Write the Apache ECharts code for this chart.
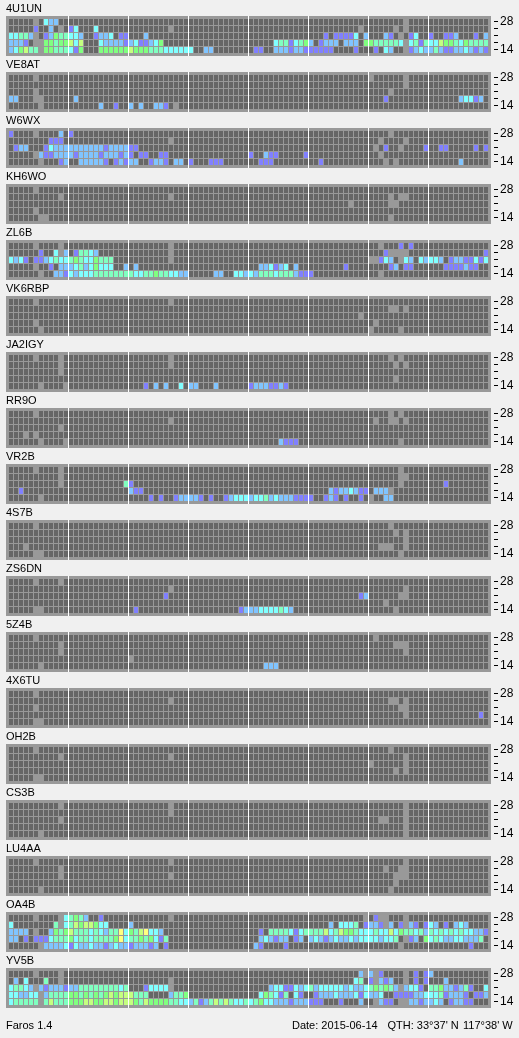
<!DOCTYPE html>
<html><head><meta charset="utf-8">
<script src="https://cdn.jsdelivr.net/npm/echarts@6/dist/echarts.min.js"></script>
<style>html,body{margin:0;padding:0;background:#f0f0f0}#c{width:519px;height:1038px}</style>
</head><body><div id="c"></div>
<script>
// Row order in each array: 28, 24, 21, 18, 14 MHz. Each row is 8 blocks of 12 slots.
// . = no signal, x = no data, 1-7 = signal level, - = whole block without signal
const bandLabels = ['28','','','','14'];
const stationNames = ['4U1UN','VE8AT','W6WX','KH6WO','ZL6B','VK6RBP','JA2IGY','RR9O','VR2B','4S7B','ZS6DN','5Z4B','4X6TU','OH2B','CS3B','LU4AA','OA4B','YV5B'];
const footerLeft = 'Faros 1.4';
const footerDate = 'Date: 2015-06-14';
const footerQth = "QTH: 33°37' N";
const footerLon = "117°38' W";
const levelColors = {'-1':'#999999',0:'#666666',1:'#8080ff',2:'#80c4ff',3:'#80ffff',4:'#80ffc0',5:'#80ff80',6:'#c4ff80',7:'#ffff80'};

const s4U1UN = [
 '.....x.322.. - - - - - .......x.... -',
 '.....1..2.x. 13...3...... ........x... - - ..........x. .....x.x.... -',
 '33442x.12544 332..1223.11 ...2........ - - ...1.11113.2 ...21.x.13.. 1..112...1.2',
 '2221.xx55455 636...322221 2311235..... - .....3441345 2.1222.222.5 5444443x3414 336554354444',
 '235644x55444 315...555555 655544433333 3..22....... .11..2221221 11111....1.. .1.32..x1232 242112232121'];
const sVE8AT = [
 '.....x...... - - - - - x......x.... -',
 '- - - - - - .......x.... -',
 '.....x...... - - - - - ....x....... -',
 '22...xx..... .2.......... - - - - ...1........ ......23312.',
 '......x..... ......2..1.. 2.2..221.x.. - - - - -'];
const sW6WX = [
 '1....x....2. 1........... - - - - ....x....... -',
 '........111. - ........x... - - - ..x....x.... -',
 '.122...13222 222222212222 11.......... - - - .x.1..x....1 ..11.....1.1',
 '.....x211222 212222122212 1.11..11.... - 1..211.....1 - ..x......... -',
 '......x...12 ..222221.121 22..1221.22. 1...111..... ..111....... ..1......... ...x.x...... ......2.....'];
const sKH6WO = [
 '.....x...... - - - - - - -',
 '..........x. - ........x... - - - ....x.xx.... -',
 '- - - - - ........x... ....xx...... -',
 '.....x...... - - - - - - -',
 '......xx.... - - - - - ....x....... -'];
const sZL6B = [
 '.....x....x. - ........x... - - - ..x...1.1... -',
 '......1..3x2 .14432...... ........x... - - - ...1xxxx.... ...........1',
 '3231.1123433 454335444... ........x... - - - xx132.x32.32 332.12211313',
 '.....x..1.22 234235333..2 .2.......... - ..223123.2.. .......1.... ....12.11... ...1111211..',
 '......x..221 323334444444 433445443322 .....22..332 324443444211 1........... ..x......... -'];
const sVK6RBP = [
 '.....x...... - ........x... - - - - -',
 '- - - - - - ....xx.x.... -',
 '- - - - - ..........x. - -',
 '.....x...... - - - - - .x.......... -',
 '......x..... - - - - - x.....x..... -'];
const sJA2IGY = [
 '.....x....x. - ........x... - - - ....x.x..... -',
 '..........x. - ........x... - - - .....x.x.... -',
 '..........x. - - - - - - -',
 '- - - - - - .....x...... -',
 '......x....x - ...1.2.2..3. 22...2...... 12221121.... - - -'];
const sRR9O = [
 '.....x...... - - - - - ....x.x..... -',
 '- - ........x... - - - .x..xx.x.... -',
 '..........x. - - - - - - -',
 '...x.x...... - - - - - - -',
 '......x....x - - - ......2111.. - ......x..... -'];
const sVR2B = [
 '.....x....x. - - - - - ......x..... -',
 '..........x. - - - - - ......xx.... -',
 '..........x. ...........4 1........... - - - ......x..... ...1........',
 '..1......... - 211......... - - ....21223211 .222x....... -',
 '......x..... - ....1.1..122 221.1..12333 233423222111 1..121.1..1. x..22....... -'];
const s4S7B = [
 '.....x...... - - - - - ....x....... -',
 '- - - - - - .....x.x.... -',
 '- - - - - - .......x.... -',
 '...x........ - - - - - ..xxx..x.... -',
 '.....xx..... - - - - - ......x..... -'];
const sZS6DN = [
 '.....x....x. - - - - - - -',
 '- - ........x... - - - .......x.... -',
 '- - .......1.... - - ..........12 ......xx.... -',
 '- - - - - - ...x........ -',
 '.....xx..... - .1.......... ..........12 223333432... - .....x...... -'];
const s5Z4B = [
 '.....x...... - - - - - .x.......... -',
 '..........x. - - - - - .....xxx.... -',
 '..........x. - - - - - .......x.... -',
 '- - x........... - - - - -',
 '......x..... - - - ...222...... - - -'];
const s4X6TU = [
 '.....x...... - - - - - - -',
 '- - ........x... - - - ....xx.x.... -',
 '.....x...... - - - - - ......xx.... -',
 '- - - - - - .......x.... ..........1.',
 '.....xx..... - - - - - - -'];
const sOH2B = [
 '.....x...... - - - - - ....x....... -',
 '..........x. - ........x... - - - .......x.... -',
 '- - - - - - x......x.... -',
 '- - - - - - .....x.x.... -',
 '.....xx..... - - - - - - -'];
const sCS3B = [
 '..........x. - ........x... - - - .......x.... -',
 '- - ........x... - - - .......x.... -',
 '..........x. - - - - - ..xx...x.... -',
 '- - - - - - .......x.... -',
 '......x..... - - - - - .......x.... -'];
const sLU4AA = [
 '.....x...... - ........x... - - - .......x.... -',
 '..........x. - - - - - ...x..xx.... -',
 '..........x. - ........x... - - - .....xxx.... -',
 '- - - - - - .....x...... -',
 '......x..... - - - - - ....x....... -'];
const sOA4B = [
 '.....x....x3 4542..1..... ........x... - - ...........x .1xx...x.... -',
 '3........4x3 46566533.... 2........... - - ....2.3334.1 221x2.1x21.1 32.1.232....',
 '2222.x..2545 644434324473 5467332..... - ..1.44443134 444634655433 343363544342 434343433221',
 '22.1.1113444 534434444573 44545314.... - ..232122.12. 232123223233 332334.x12.5 34322332224.',
 '......x22223 132232212322 122212.1.... - .21....1.... - ......x..... ........1...'];
const sYV5B = [
 '.....x....x. - - - - ..........2x 2x1....x.1.1 2...........',
 '.2.3...4..x. - ........x... - - .........34. 1x212..x.1.1 ...2........',
 '34432x212221 224444444434 ...13333x... - ....23311323 423333323223 454542x2331. 445221241..3',
 '332233x24444 554545456566 6444....2445 - ..354314.31. .12223222313 223..1111223 33412221.112',
 '344444x46444 555665566566 654655554433 241246464334 345332221222 111...1...2. .x211.xx2212 232.12211...'];
const stationRows = [s4U1UN,sVE8AT,sW6WX,sKH6WO,sZL6B,sVK6RBP,sJA2IGY,sRR9O,sVR2B,s4S7B,sZS6DN,s5Z4B,s4X6TU,sOH2B,sCS3B,sLU4AA,sOA4B,sYV5B];

const BLOCK = 12, BLOCKS = 8, SLOTS = BLOCK * BLOCKS;
const PANEL_PITCH = 56, PANEL_TOP = 16;
const FONT = '"Liberation Sans", Arial, sans-serif';
const slots = Array.from({length: SLOTS}, (_, i) => String(i));

function expandRow(row) {
  return row.split(' ').map(g => g === '-' ? '.'.repeat(BLOCK) : g).join('').padEnd(SLOTS, '.').slice(0, SLOTS);
}
function toCells(rows) {
  const out = [];
  rows.forEach((row, r) => {
    const full = expandRow(row);
    for (let c = 0; c < SLOTS; c++) {
      const ch = full[c];
      out.push([c, r, ch === '.' ? 0 : ch === 'x' ? -1 : Number(ch)]);
    }
  });
  return out;
}
function renderCell(params, api) {
  const p = api.coord([api.value(0), api.value(1)]);
  const s = api.size([1, 1]);
  return {type: 'rect',
    shape: {x: p[0] - s[0] / 2 + 1, y: p[1] - s[1] / 2 + 1, width: s[0] - 1, height: s[1] - 1},
    style: {fill: levelColors[api.value(2)]}};
}

const grids = [], xAxes = [], yAxes = [], series = [], titles = [], graphics = [];
stationNames.forEach((name, i) => {
  const top = PANEL_TOP + i * PANEL_PITCH;
  grids.push({left: 8, top: top + 2, width: 480, height: 35, show: false});
  xAxes.push({type: 'category', gridIndex: i, data: slots, show: false});
  yAxes.push({type: 'category', gridIndex: i, data: bandLabels, inverse: true, position: 'right', offset: 6,
    axisLine: {show: false},
    axisTick: {show: true, length: 4, alignWithLabel: true, lineStyle: {color: '#000', width: 1}},
    splitLine: {show: false},
    axisLabel: {show: true, interval: 0, margin: 6, color: '#000', fontSize: 12, fontFamily: FONT}});
  series.push({type: 'custom', xAxisIndex: i, yAxisIndex: i, renderItem: renderCell,
    data: toCells(stationRows[i]), encode: {x: 0, y: 1}, clip: false, silent: true, animation: false});
  titles.push({text: name, left: 6, top: top - 13, padding: 0,
    textStyle: {color: '#000', fontSize: 11, fontWeight: 'normal', fontFamily: FONT}});
  graphics.push({type: 'rect', silent: true, z: -1, shape: {x: 6, y: top, width: 485, height: 40}, style: {fill: '#999999'}});
  for (let b = 1; b < BLOCKS; b++) {
    graphics.push({type: 'rect', silent: true, z: 50, shape: {x: 8 + b * BLOCK * 5, y: top, width: 1, height: 40}, style: {fill: '#ffffff'}});
  }
});
[[footerLeft, 6], [footerDate, 292], [footerQth, 387.5], [footerLon, 463]].forEach(([t, x]) => {
  titles.push({text: t, left: x, top: 1020, padding: 0,
    textStyle: {color: '#000', fontSize: 11, fontWeight: 'normal', fontFamily: FONT}});
});

const chart = echarts.init(document.getElementById('c'), null, {renderer: 'canvas'});
chart.setOption({
  animation: false,
  backgroundColor: '#f0f0f0',
  title: titles,
  grid: grids,
  xAxis: xAxes,
  yAxis: yAxes,
  series: series,
  graphic: graphics
});
</script>
</body></html>
